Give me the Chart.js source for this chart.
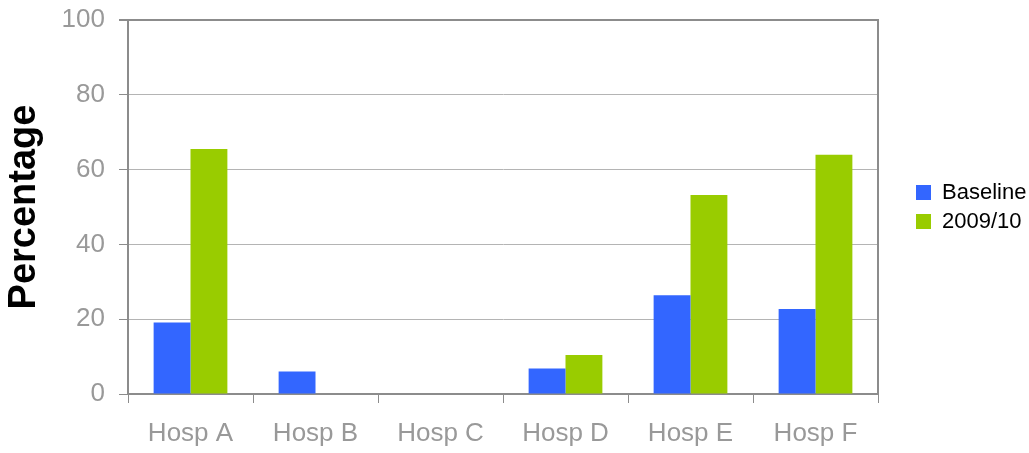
<!DOCTYPE html>
<html>
<head>
<meta charset="utf-8">
<script src="https://cdn.jsdelivr.net/npm/chart.js@4"></script>
<style>
  html, body { margin: 0; padding: 0; background: #ffffff; }
  #wrap { width: 1029px; height: 453px; position: relative; }
</style>
</head>
<body>
<div id="wrap"><canvas id="chart"></canvas></div>
<script>
// Share of patients per hospital, baseline vs 2009/10
const hospitals = ['Hosp A', 'Hosp B', 'Hosp C', 'Hosp D', 'Hosp E', 'Hosp F'];
const baseline = [19.1, 6.0, 0, 6.8, 26.4, 22.7];
const year200910 = [65.5, 0, 0, 10.4, 53.2, 64.0];
const yTicks = [0, 20, 40, 60, 80, 100];

const FONT = '"Liberation Sans", Arial, sans-serif';
const GRID = '#b4b4b4';
const AXIS = '#8c8c8c';
const LABEL = '#999999';

new Chart(document.getElementById('chart'), {
  type: 'bar',
  data: {
    labels: hospitals,
    datasets: [
      { label: 'Baseline', data: baseline, backgroundColor: '#3366ff',
        barPercentage: 1.0, categoryPercentage: 0.59 },
      { label: '2009/10', data: year200910, backgroundColor: '#99cc00',
        barPercentage: 1.0, categoryPercentage: 0.59 }
    ]
  },
  options: {
    responsive: true,
    maintainAspectRatio: false,
    devicePixelRatio: 1,
    animation: false,
    layout: { padding: { top: 20, right: 0, bottom: 0, left: 0 } },
    plugins: {
      tooltip: { enabled: false },
      legend: {
        position: 'right',
        fullSize: false,
        maxWidth: 120,
        labels: {
          boxWidth: 15,
          boxHeight: 15,
          padding: 7,
          color: '#000000',
          font: { family: FONT, size: 22 }
        }
      }
    },
    scales: {
      x: {
        grid: {
          offset: true,
          drawOnChartArea: false,
          tickLength: 9,
          tickColor: AXIS
        },
        border: { color: AXIS, width: 2 },
        ticks: {
          color: LABEL,
          padding: 15,
          font: { family: FONT, size: 26 }
        },
        afterFit: (s) => { s.height = 59; }
      },
      y: {
        min: 0,
        max: 100,
        afterBuildTicks: (s) => { s.ticks = yTicks.map(v => ({ value: v })); },
        grid: {
          color: (ctx) => ctx.tick && ctx.tick.value === 100 ? AXIS : GRID,
          lineWidth: (ctx) => ctx.tick && ctx.tick.value === 100 ? 2 : 1,
          tickLength: 9,
          tickColor: AXIS
        },
        border: { color: AXIS, width: 2 },
        ticks: {
          color: LABEL,
          padding: 14,
          font: { family: FONT, size: 26 }
        },
        title: {
          display: true,
          text: 'Percentage',
          color: '#000000',
          font: { family: FONT, size: 38, weight: 'bold' },
          padding: { top: 2, bottom: 0 }
        },
        afterFit: (s) => { s.width = 128; s.paddingTop = 0; s.paddingBottom = 0; }
      },
      frameRight: {
        type: 'linear',
        position: 'right',
        display: true,
        grid: { display: false, drawTicks: false },
        ticks: { display: false },
        border: { display: true, color: AXIS, width: 2 },
        afterFit: (s) => { s.width = 31; s.paddingTop = 0; s.paddingBottom = 0; }
      }
    }
  }
});
</script>
</body>
</html>
